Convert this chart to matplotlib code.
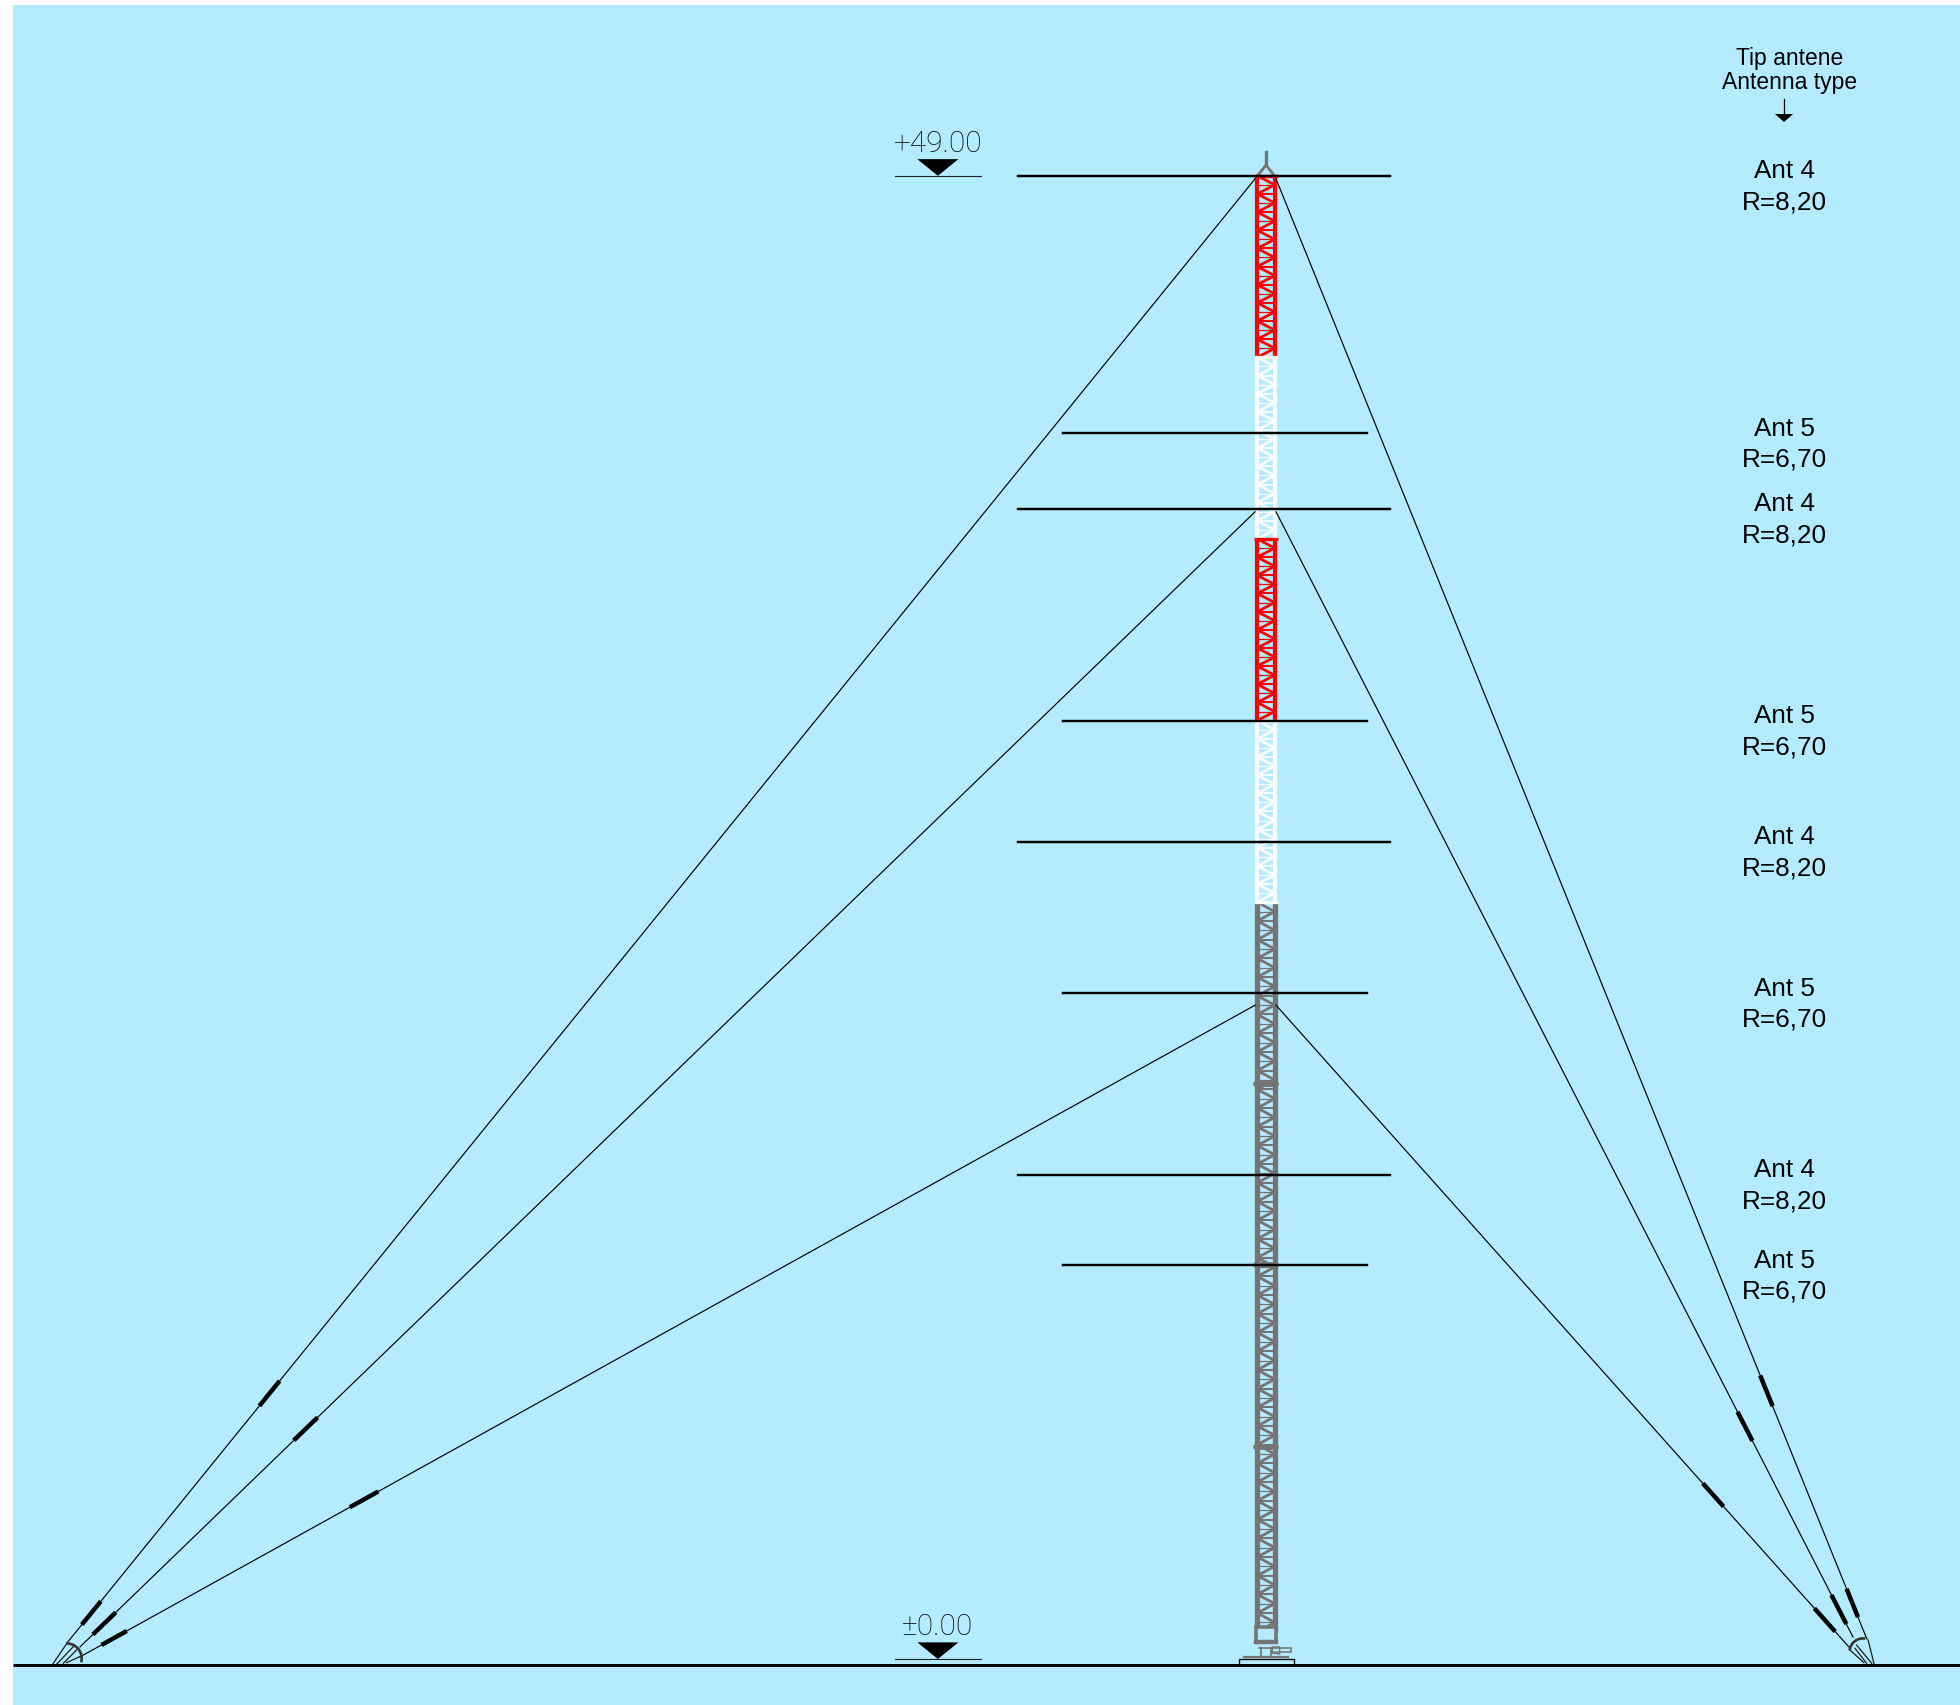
import numpy as np
import matplotlib
matplotlib.use("Agg")
import matplotlib.pyplot as plt
from matplotlib.patches import Arc, Polygon, Rectangle

# ---------- DATA (metres, mast axis at x=0, +-0.00 at h=0) ----------
ANT_LEVELS = [49.0, 40.5, 38.0, 31.0, 27.0, 22.0, 16.0, 13.0]
ANT_TYPES = ["Ant 4", "Ant 5", "Ant 4", "Ant 5", "Ant 4", "Ant 5", "Ant 4", "Ant 5"]
ANT_RADII = ["R=8,20", "R=6,70", "R=8,20", "R=6,70", "R=8,20", "R=6,70", "R=8,20", "R=6,70"]
ANT_LEFT = [8.2, 6.7, 8.2, 6.7, 8.2, 6.7, 8.2, 6.7]
ANT_RIGHT = [4.1, 3.35, 4.1, 3.35, 4.1, 3.35, 4.1, 3.35]

SECTION_FROM = [0.9, 25.0, 31.0, 37.0, 43.0]
SECTION_TO = [25.0, 31.0, 37.0, 43.0, 49.0]
SECTION_COLORS = ["#747474", "#f8fbff", "#ff0000", "#f8fbff", "#ff0000"]
COLLAR_COLORS = ["#f8fbff", "#f8fbff", "#ff0000", "#f8fbff", "#ff0000"]
FLANGES = [7.0, 13.0, 19.0]

GUY_ATTACH_H = [48.9, 37.9, 21.6]
GUY_LEFT_X = [-39.61, -39.18, -39.18]
GUY_LEFT_H = [0.53, 0.40, 0.07]
GUY_RIGHT_X = [19.85, 19.39, 19.29]
GUY_RIGHT_H = [0.66, 0.73, 0.36]

INS_LEFT_UP = [(8.42, 9.13), (7.27, 7.93), (5.05, 5.50)]
INS_LEFT_LOW = [(1.19, 1.85), (0.86, 1.49), (0.50, 0.89)]
INS_RIGHT_UP = [(8.42, 9.30), (7.27, 8.10), (5.09, 5.75)]
INS_RIGHT_LOW = [(1.45, 2.25), (1.22, 2.05), (0.96, 1.62)]

# anchor blocks: foot and head of the fan rays, arc centre and diameter
LEFT_RAY_X0 = [-40.08, -39.95, -39.73, -39.62]
LEFT_RAY_H0 = [-0.17, -0.17, -0.14, -0.12]
LEFT_RAY_X1 = [-39.60, -39.40, -39.29, -39.18]
LEFT_RAY_H1 = [0.54, 0.41, 0.30, 0.08]
RIGHT_RAY_X0 = [20.09, 20.01, 19.84, 19.75]
RIGHT_RAY_H0 = [-0.17, -0.14, -0.14, -0.12]
RIGHT_RAY_X1 = [19.89, 19.51, 19.46, 19.29]
RIGHT_RAY_H1 = [0.63, 0.46, 0.35, 0.30]
ARC_CENTRES = [(-39.62, 0.02), (19.72, 0.24)]
ARC_DIAMETERS = [0.99, 0.88]
ARC_ANGLES = [(-15, 90), (80, 175)]

LEVEL_X = -10.84
LEVEL_MARKS = [49.0, 0.0]
LEVEL_LABELS = ["+49.00", "\u00b10.00"]
# --------------------------------------------------------------------

PX = 30.27
X0, H0 = 1266, 1659
W, H = 1960, 1706
BLUE = "#b3ecff"
GREY = "#747474"
TEXT_X = (1784 - X0) / PX
SHIFT = 1.0


def m_y(px):
    return (H0 - px) / PX


fig = plt.figure(figsize=(W / 100, H / 100), dpi=100, facecolor="white")
ax = fig.add_axes([0, 0, 1, 1])
ax.set_xlim(-X0 / PX, (W - X0) / PX)
ax.set_ylim(m_y(H - SHIFT), m_y(-SHIFT))
ax.axis("off")

# background
ax.add_patch(Rectangle((-X0 / PX + 13 / PX, m_y(H + 5)), (W - 13) / PX, (H + 5 - 5) / PX,
                       fc=BLUE, ec="none", zorder=0))

# mast sections
half = 0.29
pitch = 0.62
for i, (h0, h1, col) in enumerate(zip(SECTION_FROM, SECTION_TO, SECTION_COLORS)):
    chord_lw = 3.8 if i == 0 else 3.0
    ax.plot([-half, -half], [h0, h1], color=col, lw=chord_lw, solid_capstyle="butt", zorder=3)
    ax.plot([half, half], [h0, h1], color=col, lw=chord_lw, solid_capstyle="butt", zorder=3)
    n = int(round((h1 - h0) / pitch))
    ys = np.linspace(h0, h1, n + 1)
    for a, b in zip(ys[:-1], ys[1:]):
        mid = (a + b) / 2
        ax.plot([-half, half, -half], [a, mid, b], color=col, lw=2.0, zorder=2,
                solid_joinstyle="miter")
        ax.plot([-half, half], [a, a], color=col, lw=1.5, zorder=2)
        ax.plot([-half, half], [mid, mid], color=col, lw=0.9, zorder=2)

# end collars
for h1, col in zip(SECTION_TO, COLLAR_COLORS):
    ax.plot([-half - 0.1, half + 0.1], [h1, h1], color=col, lw=2.4, zorder=4,
            solid_capstyle="butt")

for h in FLANGES:
    ax.plot([-0.33, 0.33], [h, h], color=GREY, lw=4.2, solid_capstyle="round", zorder=4)

# mast head
ax.plot([-0.31, 0, 0.31], [m_y(177), m_y(165), m_y(177)], color=GREY, lw=2.0, zorder=3)
ax.plot([0, 0], [m_y(165), m_y(152)], color=GREY, lw=2.4, zorder=3)

# mast foot
ax.add_patch(Rectangle((-half - 0.03, m_y(1642)), 2 * half + 0.06, m_y(1627) - m_y(1642),
                       fc=BLUE, ec=GREY, lw=2.6, zorder=4))
ax.plot([-0.34, 0.34], [m_y(1642), m_y(1642)], color=GREY, lw=3.2, zorder=4)
ax.plot([-0.17, -0.17], [m_y(1648), m_y(1657)], color=GREY, lw=1.2, zorder=4)
ax.plot([0.17, 0.17], [m_y(1648), m_y(1657)], color=GREY, lw=1.2, zorder=4)
ax.plot([-0.22, 0.22], [m_y(1648), m_y(1648)], color=GREY, lw=1.2, zorder=4)
ax.plot([-0.72, 0.72], [m_y(1657), m_y(1657)], color=GREY, lw=1.6, zorder=4)
ax.add_patch(Rectangle((0.2, m_y(1652)), 0.62, 0.13, fc=BLUE, ec=GREY, lw=1.1, zorder=4))
ax.plot([0.2, 0.2, 0.45, 0.45, 0.2], [m_y(1653), m_y(1647), m_y(1647), m_y(1654), m_y(1653)],
        color=GREY, lw=1.0, zorder=4)
ax.add_patch(Rectangle((-0.89, m_y(1664.5)), 1.82, m_y(1659) - m_y(1664.5), fc="none",
                       ec="#111111", lw=1.0, zorder=4))

# antennas
for h, left, right, t, r in zip(ANT_LEVELS, ANT_LEFT, ANT_RIGHT, ANT_TYPES, ANT_RADII):
    ax.plot([-left, right], [h, h], color="black", lw=1.75, solid_capstyle="projecting", zorder=5)
    ax.text(TEXT_X, h + 0.18, t, ha="center", va="center", fontsize=18.8,
            family="Liberation Sans", color="black", zorder=6)
    ax.text(TEXT_X, h - 0.84, r, ha="center", va="center", fontsize=18.8,
            family="Liberation Sans", color="black", zorder=6)

# guys and insulators
for attach, lx, lh, rx, rh, u_l, d_l, u_r, d_r in zip(
        GUY_ATTACH_H, GUY_LEFT_X, GUY_LEFT_H, GUY_RIGHT_X, GUY_RIGHT_H,
        INS_LEFT_UP, INS_LEFT_LOW, INS_RIGHT_UP, INS_RIGHT_LOW):
    ax.plot([-0.36, lx], [attach, lh], color="black", lw=0.85, zorder=5)
    ax.plot([0.33, rx], [attach, rh], color="black", lw=0.85, zorder=5)
    for seg in (u_l, d_l):
        xs = np.interp(seg, [lh, attach], [lx, -0.36])
        ax.plot(xs, seg, color="black", lw=3.2, zorder=6)
    for seg in (u_r, d_r):
        xs = np.interp(seg, [rh, attach], [rx, 0.33])
        ax.plot(xs, seg, color="black", lw=3.2, zorder=6)

# anchors
for x0, h0, x1, h1 in zip(LEFT_RAY_X0 + RIGHT_RAY_X0, LEFT_RAY_H0 + RIGHT_RAY_H0,
                          LEFT_RAY_X1 + RIGHT_RAY_X1, LEFT_RAY_H1 + RIGHT_RAY_H1):
    ax.plot([x0, x1], [h0, h1], color="#1a1a1a", lw=0.9, zorder=5)
for c, d, (th1, th2) in zip(ARC_CENTRES, ARC_DIAMETERS, ARC_ANGLES):
    ax.add_patch(Arc(c, d, d, theta1=th1, theta2=th2, color="#333333", lw=1.9, zorder=5))

# ground
ax.plot([-X0 / PX + 13 / PX, (W - X0) / PX], [m_y(1664.5), m_y(1664.5)], color="black", lw=2.1,
        solid_capstyle="butt", zorder=7)

# level marks
for h, lab in zip(LEVEL_MARKS, LEVEL_LABELS):
    ax.plot([LEVEL_X - 1.41, LEVEL_X + 1.41], [h, h], color="#222222", lw=0.8, zorder=5)
    ax.add_patch(Polygon([[LEVEL_X, h], [LEVEL_X - 0.68, h + 0.55], [LEVEL_X + 0.68, h + 0.55]],
                         fc="black", ec="none", zorder=5))
    ax.text(LEVEL_X, h + 1.08, lab, ha="center", va="center", fontsize=21.5,
            family="Roboto", weight="light", color="black", zorder=6)

# column header
ax.text(TEXT_X + 6 / PX, m_y(57.5), "Tip antene", ha="center", va="center", fontsize=16.5,
        family="Liberation Sans", color="black")
ax.text(TEXT_X + 6 / PX, m_y(81.5), "Antenna type", ha="center", va="center", fontsize=16.5,
        family="Liberation Sans", color="black")
ax.plot([TEXT_X, TEXT_X], [m_y(99), m_y(118)], color="black", lw=0.9)
ax.add_patch(Polygon([[TEXT_X, m_y(122)], [TEXT_X - 0.3, m_y(114)], [TEXT_X + 0.3, m_y(114)]],
                     fc="black", ec="none"))

fig.savefig("out.png", dpi=100, facecolor="white")
